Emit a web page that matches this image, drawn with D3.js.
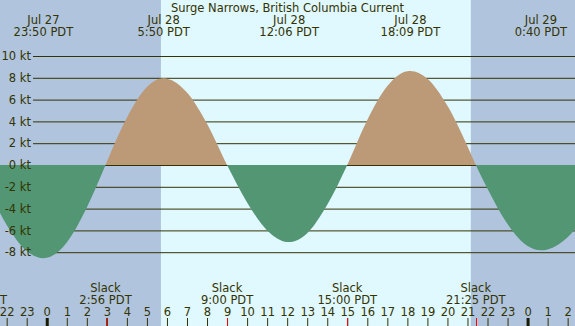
<!DOCTYPE html>
<html>
<head>
<meta charset="utf-8">
<script src="https://cdn.jsdelivr.net/npm/d3@7"></script>
<style>
  body { margin: 0; }
  svg { display: block; }
</style>
</head>
<body>
<div id="chart"></div>
<script>
// station + window
const title = "Surge Narrows, British Columbia Current"
const viewStart = "2024-07-27 21:40"
const viewEnd = "2024-07-29 02:22"

// sunrise / sunset (day shading)
const sunTimes = ["2024-07-28 05:42", "2024-07-28 21:10"]

// slack and max current events (PDT)
const eventTimes = ["2024-07-27 20:32", "2024-07-27 23:50", "2024-07-28 02:56", "2024-07-28 05:50",
  "2024-07-28 09:00", "2024-07-28 12:06", "2024-07-28 15:00", "2024-07-28 18:09",
  "2024-07-28 21:25", "2024-07-29 00:40"]
const eventKinds = ["Slack", "Max Ebb", "Slack", "Max Flood", "Slack", "Max Ebb", "Slack", "Max Flood", "Slack", "Max Ebb"]
const eventKt = [0, -8.55, 0, 7.95, 0, -7.07, 0, 8.62, 0, -7.83]

// hourly current speed (from Jul 27 21:00)
const hourlyStart = "2024-07-27 21:00"
const hourlyKt = [-1.89, -5.50, -7.89, -8.52, -7.10, -3.89, 0.29, 4.34, 7.15, 7.92, 6.65, 3.78,
  0, -3.43, -6.00, -7.06, -6.25, -3.65, 0, 4.12, 7.24, 8.60, 7.91, 5.43, 1.72,
  -2.18, -5.42, -7.43, -7.75, -6.62, -4.31]

// y axis ticks
const ktTicks = [-8, -6, -4, -2, 0, 2, 4, 6, 8, 10]

const width = 575, height = 326
const ink = "#333300"
const font = "DejaVu Sans"
const fontSize = "11.5px"

const parse = d3.utcParse("%Y-%m-%d %H:%M")

const svg = d3.select("#chart").append("svg")
  .attr("width", width)
  .attr("height", height)
  .style("font-family", font)
  .style("font-size", fontSize)

const x = d3.scaleUtc()
  .domain([parse(viewStart), parse(viewEnd)])
  .range([0, width])

const y = d3.scaleLinear()
  .domain([0, 10])
  .range([165, 56])

// background night / day
svg.append("rect")
  .attr("width", width).attr("height", height)
  .attr("fill", "#b0c4de")
svg.append("rect")
  .attr("x", x(parse(sunTimes[0])))
  .attr("width", x(parse(sunTimes[1])) - x(parse(sunTimes[0])))
  .attr("height", height)
  .attr("fill", "#e0f8ff")

// grid lines
const gridAxis = d3.axisLeft(y).tickValues(ktTicks).tickSize(-(width - 33)).tickFormat("")
const grid = svg.append("g")
  .attr("transform", "translate(33,0)")
  .call(gridAxis)
grid.select(".domain").remove()
grid.selectAll("line").attr("stroke", ink)

// points for the curve
const events = eventTimes.map((t, i) => ({ date: parse(t), kind: eventKinds[i], kt: eventKt[i] }))
const h0 = parse(hourlyStart)
const hourly = hourlyKt.map((v, i) => ({ date: d3.utcHour.offset(h0, i), kt: v }))
  .filter(h => !events.some(e => +e.date === +h.date))
const points = events.concat(hourly).sort((a, b) => a.date - b.date)

const area = d3.area()
  .curve(d3.curveMonotoneX)
  .x(d => x(d.date))
  .y0(y(0))
  .y1(d => y(d.kt))

const defs = svg.append("defs")
defs.append("clipPath").attr("id", "flood")
  .append("rect").attr("x", 0).attr("y", 0).attr("width", width).attr("height", y(0))
defs.append("clipPath").attr("id", "ebb")
  .append("rect").attr("x", 0).attr("y", y(0)).attr("width", width).attr("height", height - y(0))

svg.append("path")
  .datum(points)
  .attr("d", area)
  .attr("fill", "#bc9a78")
  .attr("clip-path", "url(#flood)")
svg.append("path")
  .datum(points)
  .attr("d", area)
  .attr("fill", "#529673")
  .attr("clip-path", "url(#ebb)")

// kt labels
const labelAxis = d3.axisLeft(y).tickValues(ktTicks).tickSize(0).tickPadding(2)
  .tickFormat(d => d + " kt")
const labels = svg.append("g")
  .attr("transform", "translate(33,0)")
  .call(labelAxis)
labels.select(".domain").remove()
labels.selectAll("text")
  .attr("fill", ink)
  .style("font-family", font)
  .style("font-size", fontSize)

// title
svg.append("text")
  .attr("x", width / 2)
  .attr("y", 12)
  .attr("text-anchor", "middle")
  .attr("fill", ink)
  .text(title)

const fmtDay = d3.utcFormat("%b %-d")
const fmtTime = d3.utcFormat("%-H:%M PDT")

// max current labels at top
const maxes = events.filter(e => e.kind !== "Slack")
svg.selectAll(".maxday").data(maxes).enter().append("text")
  .attr("x", d => x(d.date)).attr("y", 24)
  .attr("text-anchor", "middle").attr("fill", ink)
  .text(d => fmtDay(d.date))
svg.selectAll(".maxtime").data(maxes).enter().append("text")
  .attr("x", d => x(d.date)).attr("y", 36)
  .attr("text-anchor", "middle").attr("fill", ink)
  .text(d => fmtTime(d.date))

// slack labels at bottom
const slacks = events.filter(e => e.kind === "Slack")
svg.selectAll(".slack").data(slacks).enter().append("text")
  .attr("x", d => x(d.date)).attr("y", 292)
  .attr("text-anchor", "middle").attr("fill", ink)
  .text("Slack")
svg.selectAll(".slacktime").data(slacks).enter().append("text")
  .attr("x", d => x(d.date)).attr("y", 304)
  .attr("text-anchor", "middle").attr("fill", ink)
  .text(d => fmtTime(d.date))

// hour axis
const hourAxis = d3.axisTop(x)
  .ticks(d3.utcHour.every(1))
  .tickFormat(d3.utcFormat("%-H"))
  .tickSize(8)
  .tickPadding(2)
const hours = svg.append("g")
  .attr("transform", "translate(0," + height + ")")
  .call(hourAxis)
hours.select(".domain").remove()
hours.selectAll("text")
  .attr("fill", ink)
  .style("font-family", font)
  .style("font-size", fontSize)
hours.selectAll("line")
  .attr("stroke", d => d.getUTCHours() === 0 ? "#1a1a00" : ink)
  .attr("stroke-width", d => d.getUTCHours() === 0 ? 3 : 1)

// slack ticks in red
svg.selectAll(".slacktick").data(slacks).enter().append("line")
  .attr("x1", d => Math.round(x(d.date)) + 0.5)
  .attr("x2", d => Math.round(x(d.date)) + 0.5)
  .attr("y1", height - 8).attr("y2", height)
  .attr("stroke", "red")
</script>
</body>
</html>
